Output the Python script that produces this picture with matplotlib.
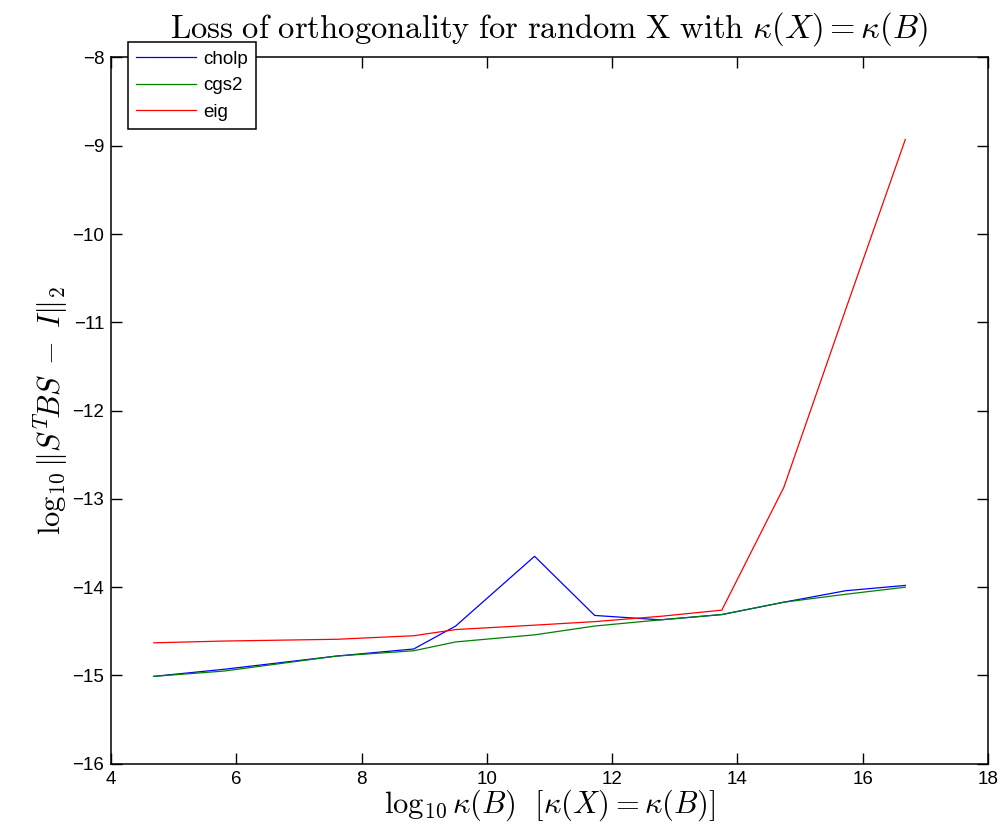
import numpy as np
import matplotlib
matplotlib.use('Agg')
import matplotlib.pyplot as plt

plt.rcParams['font.family'] = ['Liberation Sans', 'DejaVu Sans']
plt.rcParams['mathtext.fontset'] = 'cm'

# datos
kappa = [4.68, 5.80, 7.60, 8.83, 9.50, 10.76, 11.72, 12.77, 13.75, 14.74, 15.73, 16.68]
cholp = [-15.01, -14.93, -14.78, -14.70, -14.44, -13.65, -14.32, -14.37, -14.31, -14.17, -14.04, -13.98]
cgs2 = [-15.01, -14.95, -14.78, -14.72, -14.62, -14.54, -14.44, -14.37, -14.31, -14.17, -14.08, -14.00]
eig = [-14.63, -14.61, -14.59, -14.55, -14.48, -14.43, -14.39, -14.33, -14.26, -12.87, -10.85, -8.93]

xticks = [4, 6, 8, 10, 12, 14, 16, 18]
yticks = [-16, -15, -14, -13, -12, -11, -10, -9, -8]

fig = plt.figure(figsize=(10.02, 8.32), dpi=100)
ax = fig.add_axes([0.111, 0.082, 0.875, 0.849])

ax.plot(kappa, cholp, color=(0, 0, 1), lw=0.9, label='cholp')
ax.plot(kappa, cgs2, color=(0, 0.5, 0), lw=0.9, label='cgs2')
ax.plot(kappa, eig, color=(1, 0, 0), lw=0.9, label='eig')

ax.set_xlim(4, 18)
ax.set_ylim(-16, -8)
ax.set_xticks(xticks)
ax.set_yticks(yticks)
ax.set_yticklabels(['\u2212%d' % abs(v) for v in yticks])
ax.tick_params(direction='in', top=True, right=True, length=8, width=1, labelsize=13.5, pad=5)
for s in ax.spines.values():
    s.set_linewidth(1.1)

ax.set_title(r'$\mathrm{Loss\ of\ orthogonality\ for\ random\ X\ with\ }\kappa(X) = \kappa(B)$',
             fontsize=23.5, pad=14)
ax.set_xlabel(r'$\log_{10}\kappa(B)\ \ [\kappa(X) = \kappa(B)]$', fontsize=22, labelpad=0)
ax.set_ylabel(r'$\log_{10}\|S^T\!BS\;-\;I\|_2$', fontsize=22, labelpad=2)

leg = ax.legend(loc='upper left', bbox_to_anchor=(128 / 1002, 1 - 42 / 832),
                bbox_transform=fig.transFigure, borderaxespad=0, fontsize=13.5,
                fancybox=False, framealpha=1, edgecolor='black', handlelength=3.2,
                borderpad=0.45, labelspacing=0.5, handletextpad=0.35)
leg.get_frame().set_linewidth(1.1)
leg.set_zorder(5)

fig.savefig('out.png', dpi=100)
